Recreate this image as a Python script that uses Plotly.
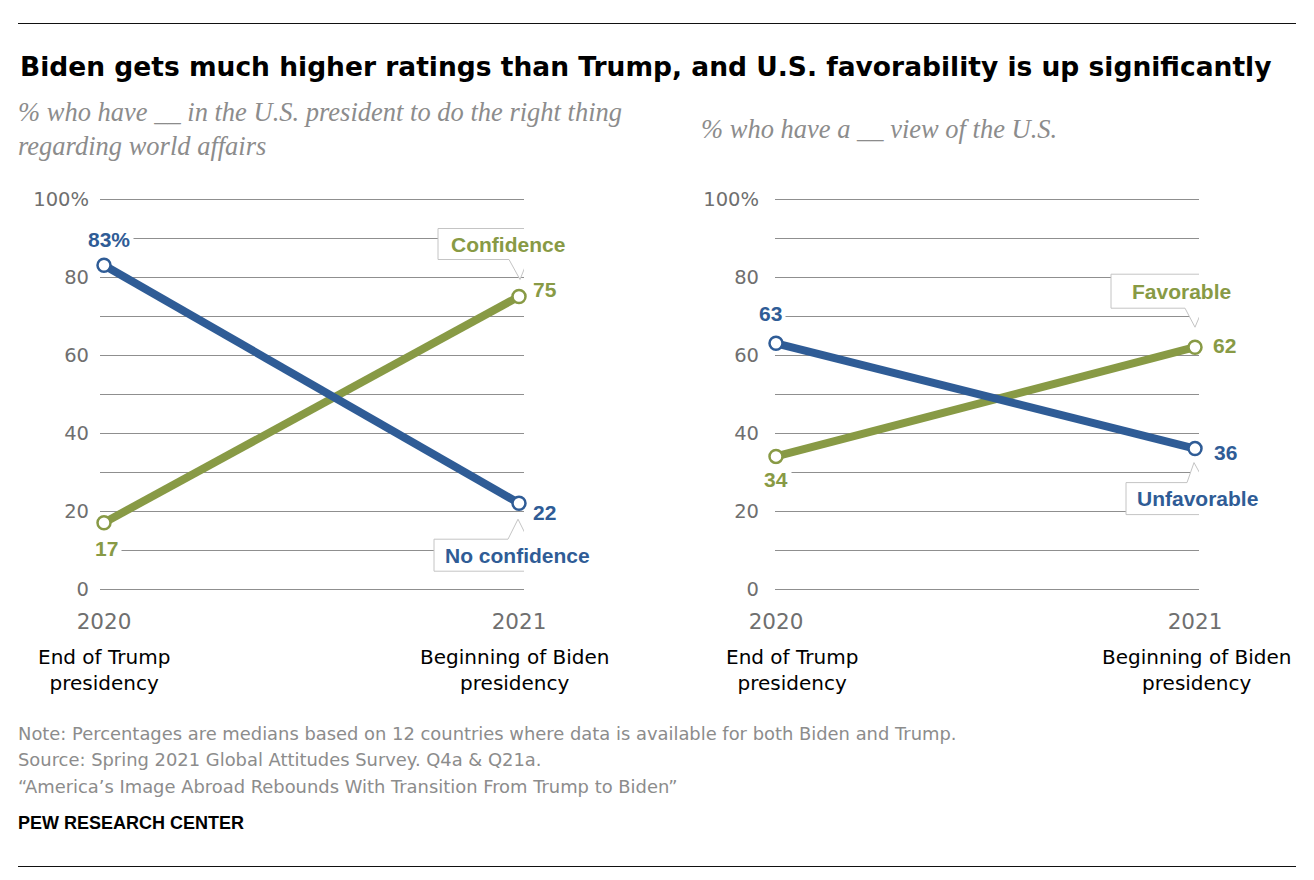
import plotly.graph_objects as go

W, H = 1314, 880
OFF = 8  # page body margin: the figure is drawn 8px right and down

# ---------------- data ----------------
years = ["2020", "2021"]
periods = ["End of Trump<br>presidency", "Beginning of Biden<br>presidency"]
x_pos = [0, 1]
confidence = [17, 75]
no_confidence = [83, 22]
favorable = [34, 62]
unfavorable = [63, 36]
y_ticks = [0, 10, 20, 30, 40, 50, 60, 70, 80, 90, 100]
y_ticktext = ["0", "", "20", "", "40", "", "60", "", "80", "", "100%"]

title = "Biden gets much higher ratings than Trump, and U.S. favorability is up significantly"
sub_left = "% who have __ in the U.S. president to do the right thing<br>regarding world affairs"
sub_right = "% who have a __ view of the U.S."
notes = [
    "Note: Percentages are medians based on 12 countries where data is available for both Biden and Trump.",
    "Source: Spring 2021 Global Attitudes Survey. Q4a & Q21a.",
    "\u201cAmerica\u2019s Image Abroad Rebounds With Transition From Trump to Biden\u201d",
]
brand = "PEW RESEARCH CENTER"

# ---------------- style ----------------
BLUE = "#2f5c96"
GREEN = "#889a45"
GRID = "#8f8f8f"
TICK = "#6f6f6f"
NOTE = "#8c8c8c"
ARIAL = "Liberation Sans"
DEJAVU = "DejaVu Sans"
SERIF = "Liberation Serif"


def px(x):
    return (x - OFF) / W


def py(y):
    return 1 - (y - OFF) / H


fig = go.Figure()

panels = [
    ("x", "y", [(confidence, GREEN), (no_confidence, BLUE)]),
    ("x2", "y2", [(favorable, GREEN), (unfavorable, BLUE)]),
]
for xa, ya, series in panels:
    for vals, col in series:
        fig.add_trace(go.Scatter(
            x=x_pos, y=vals, xaxis=xa, yaxis=ya, mode="lines+markers",
            line=dict(color=col, width=8),
            marker=dict(symbol="circle", size=13, color="white",
                        line=dict(color=col, width=2.5)),
            cliponaxis=False, hoverinfo="skip", showlegend=False,
        ))

# vertical scale: 0 -> 589 px, 100 -> 199 px; pad range so edge gridlines draw
K = (589 - 199) / 100
PAD = 0.6
ydom = [py(589 + PAD * K), py(199 - PAD * K)]
yrange = [-PAD, 100 + PAD]
axis_common = dict(showline=False, zeroline=False, fixedrange=True, automargin=False)
xtickfont = dict(family=DEJAVU, size=21.5, color=TICK)
ytickfont = dict(family=DEJAVU, size=19.5, color=TICK)
fig.update_layout(
    width=W, height=H, margin=dict(l=0, r=0, t=0, b=0, autoexpand=False),
    paper_bgcolor="white", plot_bgcolor="white",
    xaxis=dict(domain=[px(100), px(524)], range=[-4 / 415, 1 + 5 / 415],
               tickvals=x_pos, ticktext=years, showgrid=False, tickfont=xtickfont,
               ticklabelstandoff=15, **axis_common),
    yaxis=dict(domain=ydom, range=yrange, tickvals=y_ticks, ticktext=y_ticktext,
               showgrid=True, gridcolor=GRID, gridwidth=1, tickfont=ytickfont,
               ticklabelstandoff=10, **axis_common),
    xaxis2=dict(domain=[px(775), px(1199)], range=[-1 / 419, 1 + 4 / 419],
                tickvals=x_pos, ticktext=years, showgrid=False, tickfont=xtickfont,
                ticklabelstandoff=15, anchor="y2", **axis_common),
    yaxis2=dict(domain=ydom, range=yrange, tickvals=y_ticks, ticktext=y_ticktext,
                showgrid=True, gridcolor=GRID, gridwidth=1, tickfont=ytickfont,
                ticklabelstandoff=15, anchor="x2", **axis_common),
)

ann = []
shapes = []

# rules (half-pixel offset keeps the 1px line crisp)
for yy in (23.5, 866.5):
    shapes.append(dict(type="line", xref="paper", yref="paper",
                       x0=px(18), x1=px(1296), y0=py(yy), y1=py(yy),
                       line=dict(color="#111111", width=1)))

# title & subtitles
ann.append(dict(text="<b>" + title + "</b>", xref="paper", yref="paper",
                x=px(18), y=py(66), xanchor="left", yanchor="middle", showarrow=False,
                font=dict(family=DEJAVU, size=26.5, color="black")))
ann.append(dict(text="<i>" + sub_left + "</i>", xref="paper", yref="paper",
                x=px(16), y=py(129), xanchor="left", yanchor="middle", showarrow=False,
                align="left", font=dict(family=SERIF, size=26.5, color=NOTE)))
ann.append(dict(text="<i>" + sub_right + "</i>", xref="paper", yref="paper",
                x=px(699), y=py(129), xanchor="left", yanchor="middle", showarrow=False,
                align="left", font=dict(family=SERIF, size=26.5, color=NOTE)))

# period labels under the years
period_shift = {("x", 0): 0, ("x", 1): -4, ("x2", 0): 16, ("x2", 1): 2}
for xa in ("x", "x2"):
    for xv, lab in zip(x_pos, periods):
        ann.append(dict(text=lab, xref=xa, yref="paper", x=xv, y=py(670),
                        xshift=period_shift[(xa, xv)],
                        xanchor="center", yanchor="middle", showarrow=False,
                        font=dict(family=DEJAVU, size=20, color="black")))

# data labels
def dlabel(xa, ya, xv, yv, txt, col, dx, dy):
    ann.append(dict(text="<b>" + txt + "</b>", xref=xa, yref=ya, x=xv, y=yv,
                    xshift=dx, yshift=dy, xanchor="center", yanchor="middle",
                    showarrow=False, bgcolor="white", borderpad=3,
                    font=dict(family=ARIAL, size=21, color=col)))

dlabel("x", "y", x_pos[0], no_confidence[0], f"{no_confidence[0]}%", BLUE, 5, 26)
dlabel("x", "y", x_pos[0], confidence[0], f"{confidence[0]}", GREEN, 2, -26)
dlabel("x", "y", x_pos[1], confidence[1], f"{confidence[1]}", GREEN, 26, 7)
dlabel("x", "y", x_pos[1], no_confidence[1], f"{no_confidence[1]}", BLUE, 25, -9)
dlabel("x2", "y2", x_pos[0], unfavorable[0], f"{unfavorable[0]}", BLUE, -6, 30)
dlabel("x2", "y2", x_pos[0], favorable[0], f"{favorable[0]}", GREEN, 0, -23)
dlabel("x2", "y2", x_pos[1], favorable[1], f"{favorable[1]}", GREEN, 29, 2)
dlabel("x2", "y2", x_pos[1], unfavorable[1], f"{unfavorable[1]}", BLUE, 30, -4)

# callout bubbles (pixel offsets relative to the data point, y up)
def bubble(xa, ya, xv, yv, txt, col, left, right, near, far, t0, t1, tip):
    path = (f"M {left},{near} L {t0},{near} L {tip[0]},{tip[1]} L {t1},{near} "
            f"L {right},{near} L {right},{far} L {left},{far} Z")
    shapes.append(dict(type="path", xref=xa, yref=ya, xsizemode="pixel", ysizemode="pixel",
                       xanchor=xv, yanchor=yv, path=path, fillcolor="white",
                       line=dict(color="#c4c4c4", width=1), layer="above"))
    ann.append(dict(text="<b>" + txt + "</b>", xref=xa, yref=ya, x=xv, y=yv,
                    xshift=(left + right) / 2, yshift=(near + far) / 2,
                    xanchor="center", yanchor="middle", showarrow=False,
                    font=dict(family=ARIAL, size=21, color=col)))

bubble("x", "y", x_pos[1], confidence[1], "Confidence", GREEN, -81, 59, 37, 68, -10, 9, (1, 17))
bubble("x", "y", x_pos[1], no_confidence[1], "No confidence", BLUE, -85, 81, -36, -68, -11, 9, (-1, -16))
bubble("x2", "y2", x_pos[1], favorable[1], "Favorable", GREEN, -84, 57, 39, 73, -10, 8, (0, 20))
bubble("x2", "y2", x_pos[1], unfavorable[1], "Unfavorable", BLUE, -69, 74, -34, -66, -8, 10, (-1, -14))

# notes
for yy, line in zip((733, 759, 786), notes):
    ann.append(dict(text=line, xref="paper", yref="paper", x=px(16), y=py(yy),
                    xanchor="left", yanchor="middle", showarrow=False,
                    font=dict(family=DEJAVU, size=17.9, color=NOTE)))
ann.append(dict(text="<b>" + brand + "</b>", xref="paper", yref="paper", x=px(16), y=py(823),
                xanchor="left", yanchor="middle", showarrow=False,
                font=dict(family=ARIAL, size=18, color="black")))

fig.update_layout(annotations=ann, shapes=shapes)
fig.write_html("out.html")
